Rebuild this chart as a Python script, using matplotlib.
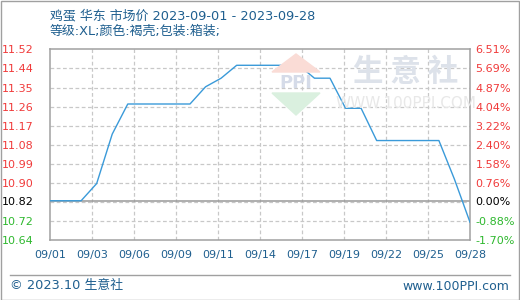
import matplotlib
matplotlib.use("Agg")
import matplotlib.pyplot as plt
import numpy as np
from matplotlib.patches import Polygon, Rectangle
from matplotlib.lines import Line2D

# ---- data ----
dates = ["09/01", "09/02", "09/03", "09/04", "09/05", "09/06", "09/07",
         "09/08", "09/09", "09/10", "09/11", "09/12", "09/13", "09/14",
         "09/15", "09/16", "09/17", "09/18", "09/19", "09/20", "09/21",
         "09/22", "09/23", "09/24", "09/25", "09/26", "09/27", "09/28"]
prices = [10.82, 10.82, 10.82, 10.90, 11.13, 11.27, 11.27,
          11.27, 11.27, 11.27, 11.35, 11.39, 11.45, 11.45,
          11.45, 11.45, 11.45, 11.39, 11.39, 11.25, 11.25,
          11.10, 11.10, 11.10, 11.10, 11.10, 10.92, 10.72]
base_price = 10.82
x_tick_labels = ["09/01", "09/03", "09/06", "09/09", "09/11", "09/14",
                 "09/17", "09/19", "09/22", "09/25", "09/28"]
left_labels = ["10.64", "10.72", "10.82", "10.90", "10.99", "11.08",
               "11.17", "11.26", "11.35", "11.44", "11.52"]
right_labels = ["-1.70%", "-0.88%", "0.00%", "0.76%", "1.58%", "2.40%",
                "3.22%", "4.04%", "4.87%", "5.69%", "6.51%"]
pct_min, pct_max = -1.70, 6.51
title = "鸡蛋 华东 市场价 2023-09-01 - 2023-09-28"
subtitle = "等级:XL;颜色:褐壳;包装:箱装;"
footer_left = "© 2023.10 生意社"
footer_right = "www.100PPI.com"

plt.rcParams['font.family'] = ['DejaVu Sans', 'Noto Sans CJK SC']

W, H = 520, 300
fig = plt.figure(figsize=(W / 100, H / 100), dpi=100)

def fx(x):
    return x / W

def fy(y):
    return 1 - y / H

# axes
ax_l, ax_r, ax_t, ax_b = 50, 470, 49.3, 240.3
ax = fig.add_axes([fx(ax_l), fy(ax_b), (ax_r - ax_l) / W, (ax_b - ax_t) / H])

ymin = base_price * (1 + pct_min / 100)
ymax = base_price * (1 + pct_max / 100)
xs = np.arange(len(dates))
ax.set_xlim(0, len(dates) - 1)
ax.set_ylim(ymin, ymax)

grid_y = np.linspace(ymin, ymax, len(left_labels))
tick_y = grid_y.copy()
tick_y[2] = base_price
grid_x = np.linspace(0, len(dates) - 1, len(x_tick_labels))

grid_c = '#c8c8c8'
for gy in grid_y[1:-1]:
    ax.axhline(gy, color=grid_c, lw=0.9, ls=(0, (3, 2)), zorder=1)
for gx in grid_x[1:-1]:
    ax.axvline(gx, color=grid_c, lw=0.9, ls=(0, (3, 2)), zorder=1)
ax.axhline(base_price, color='#999999', lw=1.1, zorder=2)

ax.plot(xs, prices, color='#3a9ad9', lw=1.0, zorder=3)

for s in ax.spines.values():
    s.set_color('#a0a0a0')
    s.set_linewidth(1.1)

def lab_color(v):
    if abs(v - base_price) < 1e-9:
        return 'black'
    return '#f03a3a' if v > base_price else '#2eb82e'

ax.set_yticks(tick_y)
ax.set_yticklabels(left_labels, fontsize=8)
for t, v in zip(ax.get_yticklabels(), tick_y):
    t.set_color(lab_color(v))
ax.tick_params(axis='y', length=0, pad=12)

ax.set_xticks(grid_x)
ax.set_xticklabels(x_tick_labels, fontsize=8, color='#1f5f8f')
ax.tick_params(axis='x', length=0, pad=7)

ax2 = ax.twinx()
ax2.set_ylim(ymin, ymax)
ax2.set_yticks(tick_y)
ax2.set_yticklabels(right_labels, fontsize=8)
for t, v in zip(ax2.get_yticklabels(), tick_y):
    t.set_color(lab_color(v))
ax2.tick_params(axis='y', length=0, pad=4)
for s in ax2.spines.values():
    s.set_visible(False)

# watermark
wm_c = '#dde2ea'
fig.text(fx(406), fy(72), "生 意 社", fontsize=22, color=wm_c, ha='center', va='center',
         family='Noto Sans CJK SC', fontweight='bold', zorder=0)
fig.text(fx(406), fy(104), "WWW.100PPI.COM", fontsize=11, color='#e8e8e8', ha='center',
         va='center', zorder=0)
red_tri = Polygon([(fx(296), fy(54)), (fx(272), fy(72)), (fx(320), fy(72))],
                  closed=True, transform=fig.transFigure, color='#fadcd6', zorder=0)
green_tri = Polygon([(fx(272), fy(93)), (fx(320), fy(93)), (fx(296), fy(115))],
                    closed=True, transform=fig.transFigure, color='#daf0df', zorder=0)
fig.patches.extend([red_tri, green_tri])
fig.text(fx(296), fy(83), "PPI", fontsize=13, color='#d5dbe8', ha='center', va='center',
         fontweight='bold', zorder=0)
ax.set_facecolor('none')

# title
txt_c = '#1f5f8f'
fig.text(fx(50), fy(16), title, fontsize=9.3, color=txt_c, ha='left', va='center')
fig.text(fx(50), fy(31), subtitle, fontsize=9.3, color=txt_c, ha='left', va='center')

# footer
fig.add_artist(Line2D([fx(10), fx(510)], [fy(275), fy(275)], color='#a0a0a0', lw=1.0))
fig.text(fx(10), fy(286), footer_left, fontsize=9.3, color=txt_c, ha='left', va='center')
fig.text(fx(509), fy(286), footer_right, fontsize=9, color=txt_c, ha='right', va='center')

# outer border
fig.add_artist(Rectangle((0.5 / W, 0.5 / H), 1 - 1.5 / W, 1 - 1.5 / H,
                         transform=fig.transFigure, fill=False, ec='#a0a0a0', lw=1.0))

fig.savefig("out.png", dpi=100)
